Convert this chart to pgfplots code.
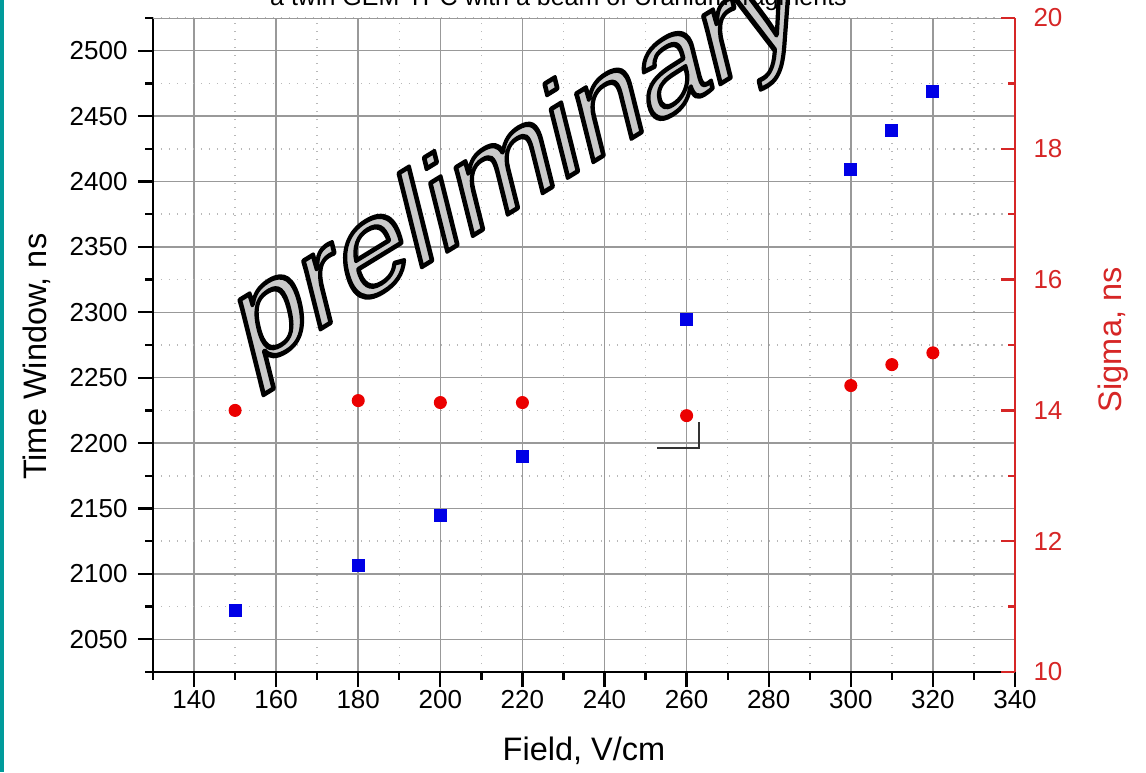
\documentclass[border=0pt]{standalone}
\usepackage{fontspec}
\setmainfont{Liberation Sans}
\usepackage{pgfplots}
\pgfplotsset{compat=1.18}
\definecolor{sigred}{RGB}{214,38,38}
\definecolor{dotred}{RGB}{235,0,0}
\definecolor{sqblue}{RGB}{0,0,230}
\definecolor{wmgray}{RGB}{202,202,202}
\definecolor{teal}{RGB}{0,155,155}

\pgfplotstableread{
x tw
150 2071.7
180 2106.1
200 2144.9
220 2190.0
260 2294.7
300 2408.9
310 2438.8
320 2468.8
}\twdata
\pgfplotstableread{
x sig
150 14.00
180 14.15
200 14.12
220 14.12
260 13.92
300 14.38
310 14.70
320 14.88
}\sigdata

\begin{document}
\begin{tikzpicture}
\path[use as bounding box] (-61.2pt,-40pt) rectangle (397.2pt,268.8pt);
\fill[teal] (-61.2pt,-40pt) rectangle (-59.6pt,268.8pt);

\pgfplotsset{
  common/.style={
    at={(0,0)}, anchor=south west,
    scale only axis, width=344.8pt, height=261.6pt,
    xmin=130, xmax=340,
    /pgf/number format/assume math mode=true,
    /pgf/number format/1000 sep={},
    tick label style={font=\fontsize{10.4}{12}\selectfont},
    label style={font=\fontsize{13}{15}\selectfont},
  }
}

\begin{axis}[common,
  ymin=2025, ymax=2525,
  axis x line*=bottom, axis y line*=left,
  axis line style={black, line width=1pt},
  xtick={140,160,...,340}, minor xtick={130,150,...,330},
  ytick={2050,2100,...,2500}, minor ytick={2025,2075,...,2525},
  tick align=outside, major tick length=6pt, minor tick length=3pt,
  tick style={black, line width=0.9pt},
  grid=both,
  major grid style={black!40, line width=0.6pt},
  minor grid style={black!28, line width=0.6pt, dash pattern=on 0.6pt off 2.6pt},
  yticklabel style={inner sep=0pt}, yticklabel shift=4pt,
  xticklabel style={inner sep=0pt}, xticklabel shift=1.2pt,
  xlabel={Field, V/cm},
  xlabel style={at={(rel axis cs:0.5,-0.136)}, anchor=base},
  ylabel={Time Window, ns},
  ylabel style={at={(rel axis cs:-0.124,0.482)}, anchor=base},
]
\addplot[only marks, mark=square*, mark size=2.4pt, color=sqblue] table[x=x, y=tw] {\twdata};
\draw[black!40, line width=0.6pt] (rel axis cs:0,1) -- (rel axis cs:1,1);
\draw[black!80, line width=0.8pt] (axis cs:252.8,2196.4) -- (axis cs:263.0,2196.4) -- (axis cs:263.0,2216.3);
\end{axis}

\begin{axis}[common,
  ymin=10, ymax=20,
  axis x line=none, axis y line*=right,
  axis line style={sigred, line width=1pt},
  ytick={10,12,...,20}, minor ytick={11,13,...,19},
  tick align=inside, major tick length=5.6pt, minor tick length=2.8pt,
  ytick style={sigred, line width=0.9pt},
  yticklabel style={sigred, inner sep=0pt}, yticklabel shift=7.2pt,
  ylabel={Sigma, ns},
  ylabel style={sigred, at={(rel axis cs:1.123,0.508)}, anchor=base},
]
\addplot[only marks, mark=*, mark size=2.4pt, color=dotred] table[x=x, y=sig] {\sigdata};
\end{axis}

% watermark: filled gray text with a black outline (text render mode 2)
\begin{scope}[shift={(37.6pt,119.2pt)}, cm={4.570,2.801,-1.287,5.162,(0,0)}]
\node[transform shape, anchor=base west, inner sep=0pt, font=\fontsize{10}{12}\selectfont]
  at (0,0) {\color{wmgray}\special{pdf:literal direct 0 G 2 Tr 0.36 w 1 j}preliminary\special{pdf:literal direct 0 Tr}};
\end{scope}

\node[anchor=base, font=\fontsize{10}{12}\selectfont] at (162.2pt,266.8pt)
  {a twin GEM-TPC with a beam of Uranium fragments};
\end{tikzpicture}
\end{document}
